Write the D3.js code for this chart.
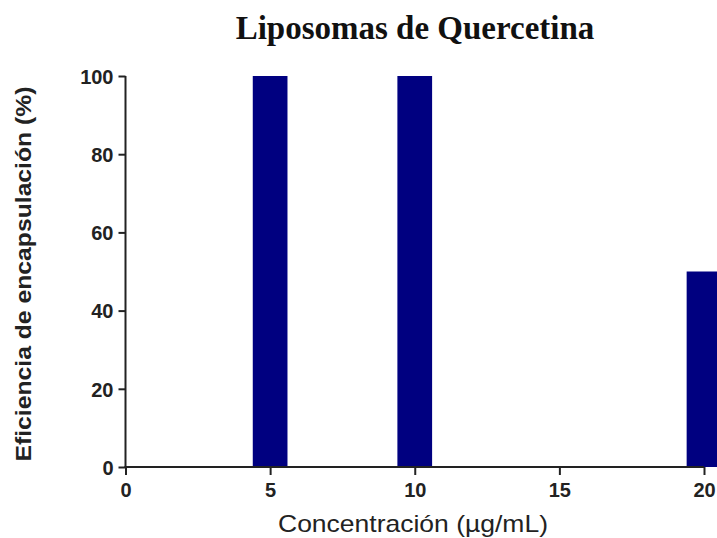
<!DOCTYPE html>
<html>
<head>
<meta charset="utf-8">
<script src="https://cdn.jsdelivr.net/npm/d3@7"></script>
<style>
  body { margin: 0; background: #fff; }
  svg { display: block; }
</style>
</head>
<body>
<svg id="chart" width="717" height="538"></svg>
<script>
// data
const concentrations = [5, 10, 20]
const efficiency = [100, 100, 50]
const xTicks = [0, 5, 10, 15, 20]
const yTicks = [0, 20, 40, 60, 80, 100]

const titleText = "Liposomas de Quercetina"
const xLabel = "Concentración (µg/mL)"
const yLabel = "Eficiencia de encapsulación (%)"

const svg = d3.select("#chart")
const axisColor = "#222"

const x = d3.scaleLinear().domain([0, 20]).range([125.5, 704])
const y = d3.scaleLinear().domain([0, 100]).range([467, 76])
const barHalf = 0.6

const data = concentrations.map((c, i) => ({c: c, v: efficiency[i]}))

// bars
svg.append("g").selectAll("rect").data(data).join("rect")
  .attr("x", d => x(d.c - barHalf))
  .attr("y", d => y(d.v))
  .attr("width", d => x(d.c + barHalf) - x(d.c - barHalf))
  .attr("height", d => y(0) - y(d.v))
  .attr("fill", "#000080")

// y axis
const yAxis = svg.append("g").attr("transform", "translate(" + x(0) + ",0)")
  .call(d3.axisLeft(y).tickValues(yTicks).tickSize(7).tickPadding(5).tickFormat(d3.format("d")))
yAxis.select(".domain").attr("stroke", axisColor).attr("stroke-width", 2).attr("d", "M0," + y(100) + "V" + y(0))
yAxis.selectAll(".tick line").attr("stroke", axisColor).attr("stroke-width", 2)
yAxis.selectAll(".tick text")
  .attr("fill", "#222").attr("font-family", "Liberation Sans, Arial, sans-serif")
  .attr("font-weight", "bold").attr("font-size", 20).attr("dy", "0.36em")

// x axis
const xAxis = svg.append("g").attr("transform", "translate(0," + y(0) + ")")
  .call(d3.axisBottom(x).tickValues(xTicks).tickSize(8).tickPadding(5).tickFormat(d3.format("d")))
xAxis.select(".domain").attr("stroke", axisColor).attr("stroke-width", 2).attr("d", "M" + (x(0) - 1) + ",0H" + x(20))
xAxis.selectAll(".tick line").attr("stroke", axisColor).attr("stroke-width", 2)
xAxis.selectAll(".tick text")
  .attr("fill", "#222").attr("font-family", "Liberation Sans, Arial, sans-serif")
  .attr("font-weight", "bold").attr("font-size", 20).attr("dy", "0.85em")

// title
svg.append("text").attr("x", 415).attr("y", 39)
  .attr("text-anchor", "middle")
  .attr("font-family", "Liberation Serif, Times New Roman, serif")
  .attr("font-weight", "bold").attr("font-size", 33)
  .attr("fill", "#111")
  .text(titleText)

// x label
svg.append("text").attr("x", 413).attr("y", 532)
  .attr("text-anchor", "middle")
  .attr("font-family", "Liberation Sans, Arial, sans-serif")
  .attr("font-size", 24)
  .attr("textLength", 270).attr("lengthAdjust", "spacingAndGlyphs")
  .attr("fill", "#222")
  .text(xLabel)

// y label
svg.append("text")
  .attr("transform", "translate(31,274) rotate(-90)")
  .attr("text-anchor", "middle")
  .attr("font-family", "Liberation Sans, Arial, sans-serif")
  .attr("font-weight", "bold").attr("font-size", 22)
  .attr("textLength", 375).attr("lengthAdjust", "spacingAndGlyphs")
  .attr("fill", "#222")
  .text(yLabel)
</script>
</body>
</html>
